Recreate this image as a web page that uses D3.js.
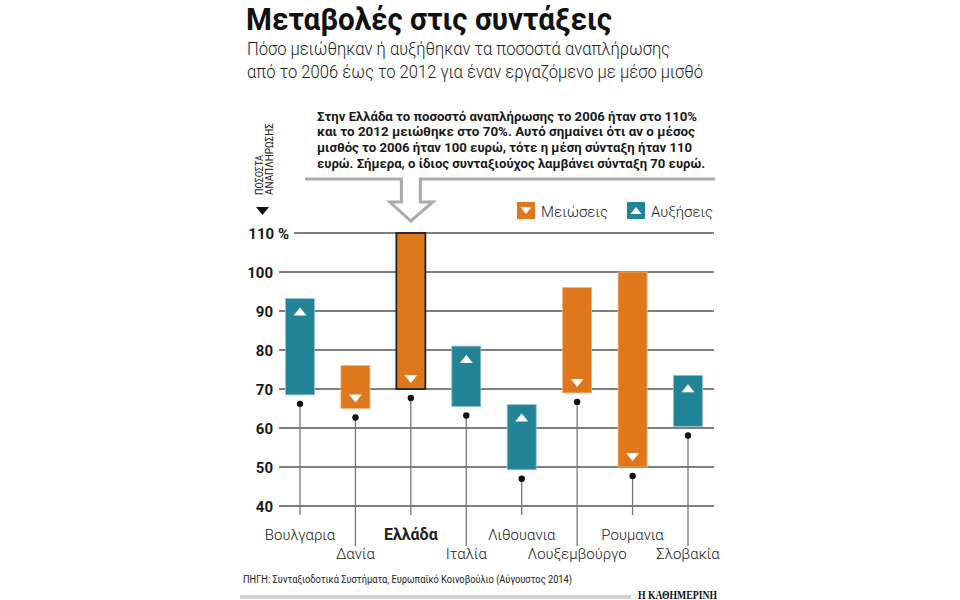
<!DOCTYPE html>
<html>
<head>
<meta charset="utf-8">
<script src="https://cdn.jsdelivr.net/npm/d3@7"></script>
<style>
  body { margin: 0; background: #fff; }
  svg text { font-family: Roboto, "Noto Sans", sans-serif; }
</style>
</head>
<body>
<div id="chart"></div>
<script>
// data
var countries = ["Βουλγαρια", "Δανία", "Ελλάδα", "Ιταλία", "Λιθουανια", "Λουξεμβούργο", "Ρουμανια", "Σλοβακία"];
var rate2006 = [68.5, 76, 110, 65.5, 49.3, 96, 100, 60.4];
var rate2012 = [93.2, 65, 70, 81, 66, 69, 50, 73.5];
var yTicks = [40, 50, 60, 70, 80, 90, 100, 110];
var noteLines = [
  "Στην Ελλάδα το ποσοστό αναπλήρωσης το 2006 ήταν στο 110%",
  "και το 2012 μειώθηκε στο 70%. Αυτό σημαίνει ότι αν ο μέσος",
  "μισθός το 2006 ήταν 100 ευρώ, τότε η μέση σύνταξη ήταν 110",
  "ευρώ. Σήμερα, ο ίδιος συνταξιούχος λαμβάνει σύνταξη 70 ευρώ."
];
var noteWidths = [380, 378, 375, 388];

var orange = "#df781d", teal = "#248497";

var width = 960, height = 600;
var svg = d3.select("#chart").append("svg")
    .attr("width", width)
    .attr("height", height);

var data = countries.map(function(c, i) {
    return {name: c, from: rate2006[i], to: rate2012[i], i: i};
});

var y = d3.scaleLinear().domain([40, 110]).range([506, 233]);
var x = d3.scalePoint().domain(countries).range([300, 688]);
var barW = 29;

// title
svg.append("text")
    .attr("x", 246).attr("y", 30)
    .attr("font-size", 32).attr("font-weight", 700)
    .attr("fill", "#111")
    .attr("textLength", 366).attr("lengthAdjust", "spacingAndGlyphs")
    .text("Μεταβολές στις συντάξεις");

svg.append("text")
    .attr("x", 247).attr("y", 55)
    .attr("font-size", 18).attr("font-weight", 300)
    .attr("fill", "#222")
    .attr("textLength", 423).attr("lengthAdjust", "spacingAndGlyphs")
    .text("Πόσο μειώθηκαν ή αυξήθηκαν τα ποσοστά αναπλήρωσης");
svg.append("text")
    .attr("x", 247).attr("y", 78)
    .attr("font-size", 18).attr("font-weight", 300)
    .attr("fill", "#222")
    .attr("textLength", 456).attr("lengthAdjust", "spacingAndGlyphs")
    .text("από το 2006 έως το 2012 για έναν εργαζόμενο με μέσο μισθό");

// annotation
svg.selectAll(".note")
    .data(noteLines)
    .enter().append("text")
    .attr("class", "note")
    .attr("x", 317)
    .attr("y", function(d, i) { return 120.5 + i * 15.8; })
    .attr("font-size", 12.5).attr("font-weight", 700)
    .attr("fill", "#1a1a1a")
    .attr("textLength", function(d, i) { return noteWidths[i]; })
    .attr("lengthAdjust", "spacingAndGlyphs")
    .text(function(d) { return d; });

// arrow pointing at Greece
var ax = x("Ελλάδα");
svg.append("path")
    .attr("d", "M305,179 H" + (ax - 9.5) + " V202 H" + (ax - 21) + " L" + ax + ",221 L" + (ax + 22) +
        ",202 H" + (ax + 9.5) + " V179 H715")
    .attr("fill", "none")
    .attr("stroke", "#aaa")
    .attr("stroke-width", 3);

// axis title
svg.append("text")
    .attr("transform", "translate(263,195) rotate(-90)")
    .attr("font-size", 11).attr("fill", "#222")
    .attr("textLength", 40).attr("lengthAdjust", "spacingAndGlyphs")
    .text("ΠΟΣΟΣΤΑ");
svg.append("text")
    .attr("transform", "translate(273,195) rotate(-90)")
    .attr("font-size", 11).attr("fill", "#222")
    .attr("textLength", 72).attr("lengthAdjust", "spacingAndGlyphs")
    .text("ΑΝΑΠΛΗΡΩΣΗΣ");
svg.append("path")
    .attr("d", "M256,207 L269,207 L262.5,215 Z")
    .attr("fill", "#111");

// legend
var legend = [
    {label: "Μειώσεις", color: orange, up: false, x: 517},
    {label: "Αυξήσεις", color: teal, up: true, x: 627}
];
var lg = svg.selectAll(".legend").data(legend).enter().append("g")
    .attr("class", "legend")
    .attr("transform", function(d) { return "translate(" + d.x + ",202)"; });
lg.append("rect").attr("width", 18).attr("height", 17).attr("fill", function(d) { return d.color; });
lg.append("path")
    .attr("d", function(d) { return d.up ? "M3.5,12 L14.5,12 L9,5 Z" : "M3.5,5 L14.5,5 L9,12 Z"; })
    .attr("fill", "#fff");
lg.append("text")
    .attr("x", 24).attr("y", 15)
    .attr("font-size", 15).attr("font-weight", 300).attr("fill", "#222")
    .text(function(d) { return d.label; });

// gridlines and y labels
svg.selectAll(".grid").data(yTicks).enter().append("line")
    .attr("class", "grid")
    .attr("x1", function(d) { return d === 110 ? 294 : 279; })
    .attr("x2", 714)
    .attr("y1", function(d) { return y(d); })
    .attr("y2", function(d) { return y(d); })
    .attr("stroke", "#555")
    .attr("stroke-width", 1.3);

svg.selectAll(".ylab").data(yTicks).enter().append("text")
    .attr("class", "ylab")
    .attr("x", function(d) { return d === 110 ? 289 : 273; })
    .attr("y", function(d) { return y(d) + 5.5; })
    .attr("text-anchor", "end")
    .attr("font-size", 15).attr("font-weight", 700).attr("fill", "#1a1a1a")
    .text(function(d) { return d === 110 ? "110 %" : d; });

// stems and dots
var labelY = [540, 558.5];
var stemEnd = [515, 546];
svg.selectAll(".stem").data(data).enter().append("line")
    .attr("class", "stem")
    .attr("x1", function(d) { return x(d.name); })
    .attr("x2", function(d) { return x(d.name); })
    .attr("y1", function(d) { return y(Math.min(d.from, d.to)) + 9; })
    .attr("y2", function(d) { return stemEnd[d.i % 2]; })
    .attr("stroke", "#777")
    .attr("stroke-width", 1.3);

svg.selectAll(".dot").data(data).enter().append("circle")
    .attr("class", "dot")
    .attr("cx", function(d) { return x(d.name); })
    .attr("cy", function(d) { return y(Math.min(d.from, d.to)) + 9; })
    .attr("r", 3.2)
    .attr("fill", "#111");

// bars
svg.selectAll(".bar").data(data).enter().append("rect")
    .attr("class", "bar")
    .attr("x", function(d) { return x(d.name) - barW / 2; })
    .attr("width", barW)
    .attr("y", function(d) { return y(Math.max(d.from, d.to)); })
    .attr("height", function(d) { return y(Math.min(d.from, d.to)) - y(Math.max(d.from, d.to)); })
    .attr("fill", function(d) { return d.to < d.from ? orange : teal; })
    .attr("stroke", function(d) { return d.name === "Ελλάδα" ? "#222" : (d.to < d.from ? "#f2b27a" : "#8fc3cf"); })
    .attr("stroke-width", function(d) { return d.name === "Ελλάδα" ? 1.8 : 0.8; });

// direction triangles
svg.selectAll(".tri").data(data).enter().append("path")
    .attr("class", "tri")
    .attr("transform", function(d) {
        var ty = d.to > d.from ? y(d.to) + 13 : y(d.to) - 10;
        return "translate(" + x(d.name) + "," + ty + ")";
    })
    .attr("d", function(d) { return d.to > d.from ? "M-6.5,4 L6.5,4 L0,-4 Z" : "M-6.5,-4 L6.5,-4 L0,4 Z"; })
    .attr("fill", "#fff");

// category labels
svg.selectAll(".cat").data(data).enter().append("text")
    .attr("class", "cat")
    .attr("x", function(d) { return x(d.name); })
    .attr("y", function(d) { return labelY[d.i % 2]; })
    .attr("text-anchor", "middle")
    .attr("font-size", function(d) { return d.name === "Ελλάδα" ? 16 : 15; })
    .attr("font-weight", function(d) { return d.name === "Ελλάδα" ? 700 : 300; })
    .attr("fill", "#222")
    .text(function(d) { return d.name; });

// source and footer
svg.append("text")
    .attr("x", 243).attr("y", 583)
    .attr("font-size", 10.5).attr("fill", "#222")
    .attr("textLength", 329).attr("lengthAdjust", "spacingAndGlyphs")
    .text("ΠΗΓΗ: Συνταξιοδοτικά Συστήματα, Ευρωπαϊκό Κοινοβούλιο (Αύγουστος 2014)");

svg.append("line")
    .attr("x1", 240).attr("x2", 631)
    .attr("y1", 597).attr("y2", 597)
    .attr("stroke", "#cfcfcf").attr("stroke-width", 4);

svg.append("text")
    .attr("x", 717).attr("y", 599)
    .attr("text-anchor", "end")
    .attr("font-size", 11.5).attr("font-weight", 700).attr("fill", "#111")
    .attr("textLength", 79).attr("lengthAdjust", "spacingAndGlyphs")
    .style("font-family", "'Liberation Serif', serif")
    .text("Η ΚΑΘΗΜΕΡΙΝΗ");
</script>
</body>
</html>
